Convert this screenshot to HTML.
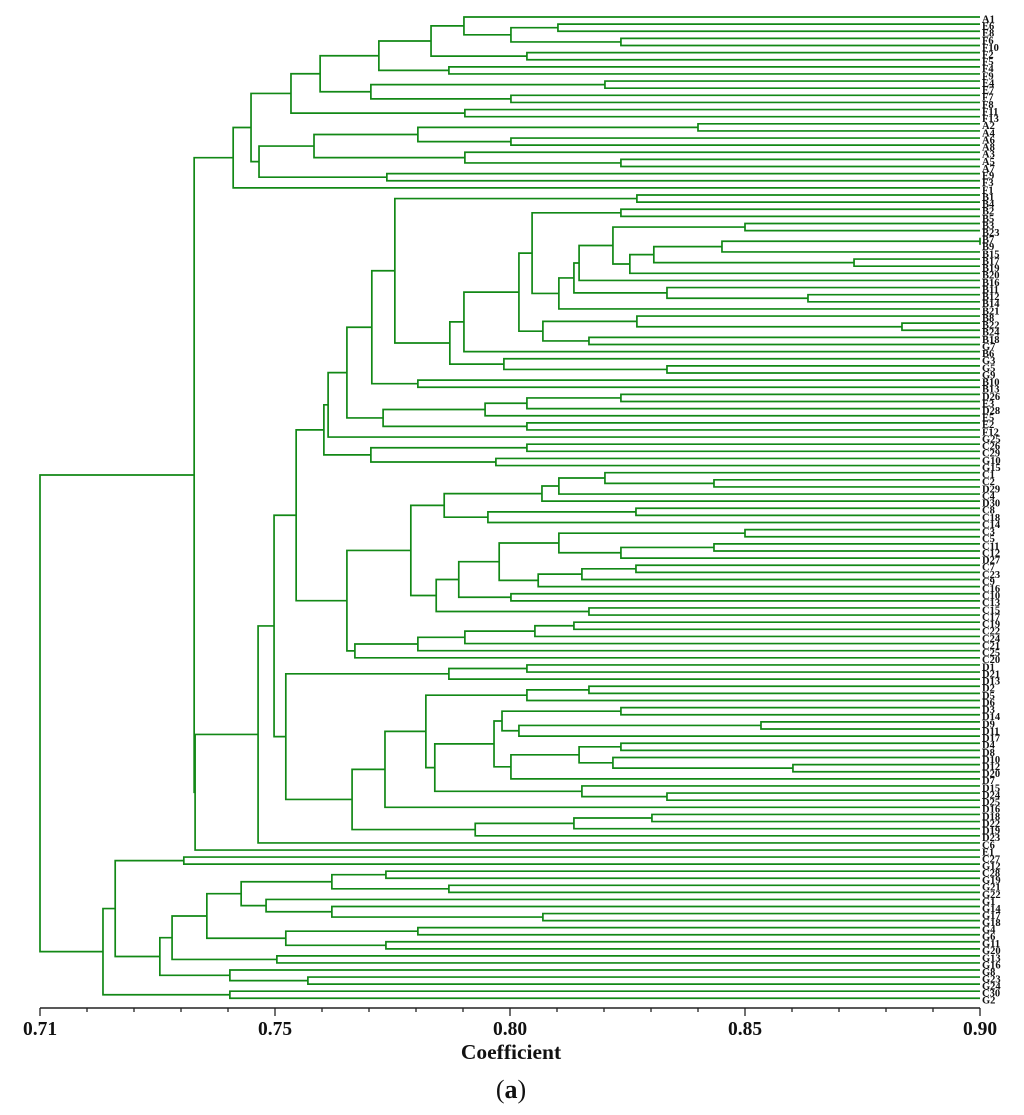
<!DOCTYPE html>
<html lang="en">
<head>
<meta charset="utf-8">
<title>Dendrogram (a)</title>
<style>
html,body{margin:0;padding:0;background:#fff;}
svg{display:block;}
text{font-family:"Liberation Serif",serif;fill:#111;}
</style>
</head>
<body>
<svg id="chart" xmlns="http://www.w3.org/2000/svg" width="1024" height="1115" viewBox="0 0 1024 1115">
  <rect x="0" y="0" width="1024" height="1115" fill="#ffffff"/>
  <g id="tree"></g>
  <g id="labels"></g>
  <g id="axis"></g>
  <text x="511" y="1059" text-anchor="middle" font-size="21.5" font-weight="bold">Coefficient</text>
  <text x="511" y="1098" text-anchor="middle" font-size="26"><tspan>(</tspan><tspan font-weight="bold">a</tspan><tspan>)</tspan></text>
</svg>
<script>
// Each node: [similarity coefficient, upper child, lower child]; strings are leaves.
const clusterF = [.7534,[.7596,[.7721,[.7832,[.7902,"A1",[.8002,[.8102,"E6","E8"],[.8236,"F6","F10"]]],[.8036,"F2","F5"]],[.7870,"F4","F9"]],[.7704,[.8202,"E4","E7"],[.8002,"F7","F8"]]],[.7904,"F11","F13"]];
const clusterA = [.7466,[.7583,[.7804,[.84,"A2","A4"],[.8002,"A6","A8"]],[.7904,"A3",[.8236,"A5","A7"]]],[.7738,"E9","F3"]];
const clusterTop = [.7411,[.7449,clusterF,clusterA],"F1"];
const clusterB = [.7706,[.7755,[.8270,"B1","B4"],[.7872,[.7902,[.8019,[.8047,[.8236,"B2","B5"],[.8104,[.8136,[.8147,[.8219,[.85,"B3","B23"],[.8255,[.8306,[.8451,[.9,"B7","B9"],"B15"],[.8732,"B17","B19"]],"B20"]],"B16"],[.8334,"B11",[.8634,"B12","B14"]]],"B21"]],[.8070,[.8270,"B8",[.8834,"B22","B24"]],[.8168,"B18","G7"]]],"B6"],[.7987,"G3",[.8334,"G5","G9"]]]],[.7804,"B10","B13"]];
const clusterE = [.7730,[.7947,[.8036,[.8236,"D26","E3"],"D28"],"E5"],[.8036,"E2","F12"]];
const clusterBE = [.7613,[.7653,clusterB,clusterE],"G25"];
const clusterH = [.7604,clusterBE,[.7704,[.8036,"C26","C29"],[.7970,"G10","G15"]]];
const clusterC = [.7653,[.7789,[.7860,[.8068,[.8104,[.8202,"C1",[.8434,"C2","D29"]],"C4"],"D30"],[.7953,[.8268,"C8","C18"],"C14"]],[.7843,[.7891,[.7977,[.8104,[.85,"C3","C5"],[.8236,[.8434,"C11","C12"],"D27"]],[.8060,[.8153,[.8268,"C7","C23"],"C9"],"C16"]],[.8002,"C10","C13"]],[.8168,"C15","C17"]]],[.7670,[.7804,[.7904,[.8053,[.8136,"C19","C22"],"C24"],"C21"],"C25"],"C20"]];
const clusterD = [.7523,[.7870,[.8036,"D1","D21"],"D13"],[.7664,[.7734,[.7821,[.8036,[.8168,"D2","D5"],"D6"],[.7840,[.7966,[.7983,[.8236,"D3","D14"],[.8019,[.8534,"D9","D11"],"D17"]],[.8002,[.8147,[.8236,"D4","D8"],[.8219,"D10",[.8602,"D12","D20"]]],"D7"]],[.8153,"D15",[.8334,"D24","D25"]]]],"D16"],[.7926,[.8136,[.8302,"D18","D22"],"D19"],"D23"]]];
const clusterMain = [.7330,[.7464,[.7498,[.7545,clusterH,clusterC],clusterD],"C6"],"E1"];
const clusterG = [.7134,[.7160,[.7306,"C27","G12"],[.7255,[.7281,[.7355,[.7428,[.7621,[.7736,"C28","G19"],[.7870,"G21","G22"]],[.7481,"G1",[.7621,"G14",[.8070,"G17","G18"]]]],[.7523,[.7804,"G4","G6"],[.7736,"G11","G20"]]],[.7504,"G13","G16"]],[.7404,"G8",[.7570,"G23","G24"]]]],[.7404,"C30","G2"]];
const treeRoot = [.70,[.7328,clusterTop,clusterMain],clusterG];

// Axis values and printed tick labels (the first tick is printed 0.71 in the source figure).
const majorTicks = [.70,.75,.80,.85,.90];
const tickLabels = ["0.71","0.75","0.80","0.85","0.90"];
const minorTicks = [.71,.72,.73,.74,.76,.77,.78,.79,.81,.82,.83,.84,.86,.87,.88,.89];

const NS = "http://www.w3.org/2000/svg";
const GREEN = "#128816";
const domainMin = .70, domainMax = .90, rangeLeft = 40, rangeRight = 980;
function xScale(v){ return rangeLeft + (v - domainMin) / (domainMax - domainMin) * (rangeRight - rangeLeft); }
function leafY(i){ return i <= 117 ? 17 + i * 7.12 : 850 + (i - 117) * 7.06; }

const treeGroup = document.getElementById("tree");
const labelGroup = document.getElementById("labels");
const axisGroup = document.getElementById("axis");
let leafIndex = 0;

function layout(node){
  if (typeof node === "string"){
    const y = leafY(leafIndex);
    leafIndex += 1;
    const t = document.createElementNS(NS, "text");
    
    
    t.setAttribute("x", 982);
    t.setAttribute("y", (y + 5.4).toFixed(2));
    t.setAttribute("font-size", "10.5");
    t.setAttribute("font-weight", "bold");
    t.textContent = node;
    labelGroup.appendChild(t);
    return { x: rangeRight, y: y };
  }
  const a = layout(node[1]);
  const b = layout(node[2]);
  const x = xScale(node[0]);
  const y = (a.y + b.y) / 2;
  const p = document.createElementNS(NS, "path");
  
  
  p.setAttribute("d", "M" + a.x.toFixed(2) + " " + a.y.toFixed(2) + "H" + x.toFixed(2) + "V" + b.y.toFixed(2) + "H" + b.x.toFixed(2));
  p.setAttribute("fill", "none");
  p.setAttribute("stroke", GREEN);
  p.setAttribute("stroke-width", "1.7");
  treeGroup.appendChild(p);
  return { x: x, y: y };
}
layout(treeRoot);

const axisY = 1008;
const axisLine = document.createElementNS(NS, "line");


axisLine.setAttribute("x1", xScale(domainMin));
axisLine.setAttribute("x2", xScale(domainMax));
axisLine.setAttribute("y1", axisY);
axisLine.setAttribute("y2", axisY);
axisLine.setAttribute("stroke", "#222");
axisLine.setAttribute("stroke-width", "1.5");
axisGroup.appendChild(axisLine);

minorTicks.forEach(function(v){
  const m = document.createElementNS(NS, "line");
  
  
  m.setAttribute("x1", xScale(v));
  m.setAttribute("x2", xScale(v));
  m.setAttribute("y1", axisY);
  m.setAttribute("y2", axisY + 4);
  m.setAttribute("stroke", "#222");
  m.setAttribute("stroke-width", "1.3");
  axisGroup.appendChild(m);
});

majorTicks.forEach(function(v, i){
  const k = document.createElementNS(NS, "line");
  
  
  k.setAttribute("x1", xScale(v));
  k.setAttribute("x2", xScale(v));
  k.setAttribute("y1", axisY);
  k.setAttribute("y2", axisY + 8);
  k.setAttribute("stroke", "#222");
  k.setAttribute("stroke-width", "1.3");
  axisGroup.appendChild(k);
  const t = document.createElementNS(NS, "text");
  
  
  t.setAttribute("x", xScale(v));
  t.setAttribute("y", 1035);
  t.setAttribute("text-anchor", "middle");
  t.setAttribute("font-size", "19.5");
  t.setAttribute("font-weight", "bold");
  t.textContent = tickLabels[i];
  axisGroup.appendChild(t);
});
</script>
</body>
</html>
